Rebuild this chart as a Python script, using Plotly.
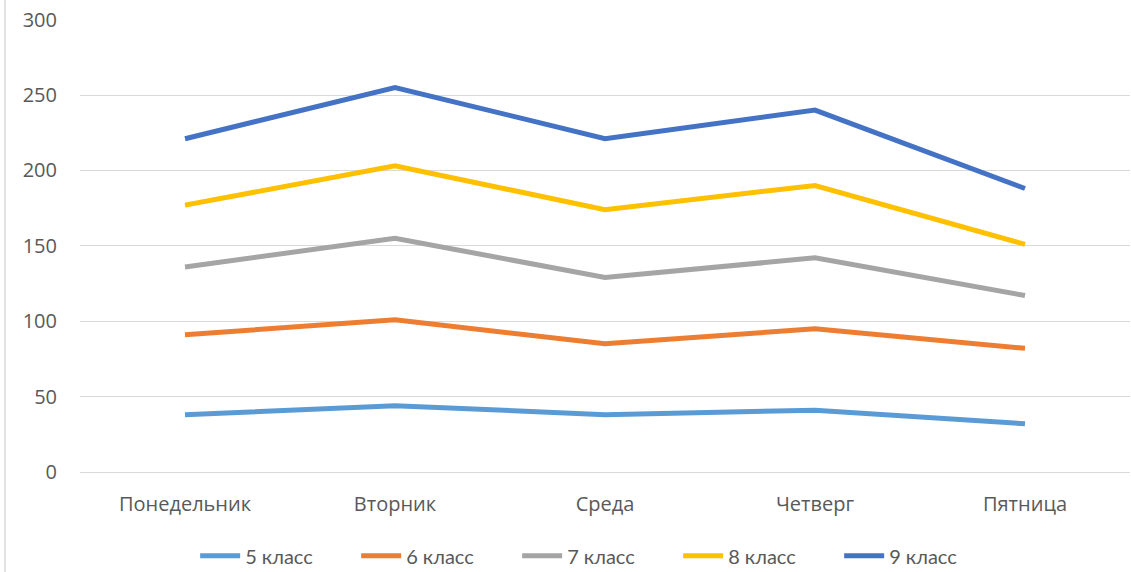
import plotly.graph_objects as go

days = ["Понедельник", "Вторник", "Среда", "Четверг", "Пятница"]
series_names = ["5 класс", "6 класс", "7 класс", "8 класс", "9 класс"]
s5 = [38, 44, 38, 41, 32]
s6 = [91, 101, 85, 95, 82]
s7 = [136, 155, 129, 142, 117]
s8 = [177, 203, 174, 190, 151]
s9 = [221, 255, 221, 240, 188]
colors = ["#5B9BD5", "#ED7D31", "#A5A5A5", "#FFC000", "#4472C4"]

fig = go.Figure()
for name, vals, col in zip(series_names, [s5, s6, s7, s8, s9], colors):
    fig.add_trace(go.Scatter(x=days, y=vals, name=name, mode="lines",
                             line=dict(color=col, width=5)))

axis_font = dict(family="Open Sans, sans-serif", size=20, color="#595959")
fig.update_layout(
    width=1131, height=572,
    margin=dict(l=80, r=1, t=19, b=100, autoexpand=False),
    paper_bgcolor="white", plot_bgcolor="white",
    font=dict(family="Open Sans, sans-serif", size=20, color="#595959"),
    xaxis=dict(range=[-0.5, 4.5], showgrid=False, zeroline=False, showline=False,
               ticks="", ticklabelstandoff=18, tickfont=axis_font),
    yaxis=dict(range=[0, 300.4], tickvals=[0, 50, 100, 150, 200, 250, 300],
               ticklabeloverflow="allow",
               showgrid=True, gridcolor="#D9D9D9", gridwidth=1,
               zeroline=True, zerolinecolor="#D9D9D9", zerolinewidth=1,
               showline=False, ticks="", ticklabelstandoff=22, tickfont=axis_font),
    legend=dict(orientation="h", x=0.493, xanchor="center", y=-0.185, yanchor="middle",
                font=dict(family="Lato, sans-serif", size=20, color="#595959"),
                itemwidth=40, tracegroupgap=0,
                entrywidth=106, entrywidthmode="pixels"),
    showlegend=True,
)
fig.add_shape(type="line", xref="paper", yref="paper", x0=-0.0714, x1=-0.0714, y0=-0.3, y1=1.1,
              line=dict(color="#D9D9D9", width=1.5))
fig.write_html("out.html", config={"displayModeBar": False},
               post_script="document.body.style.margin='0';")
